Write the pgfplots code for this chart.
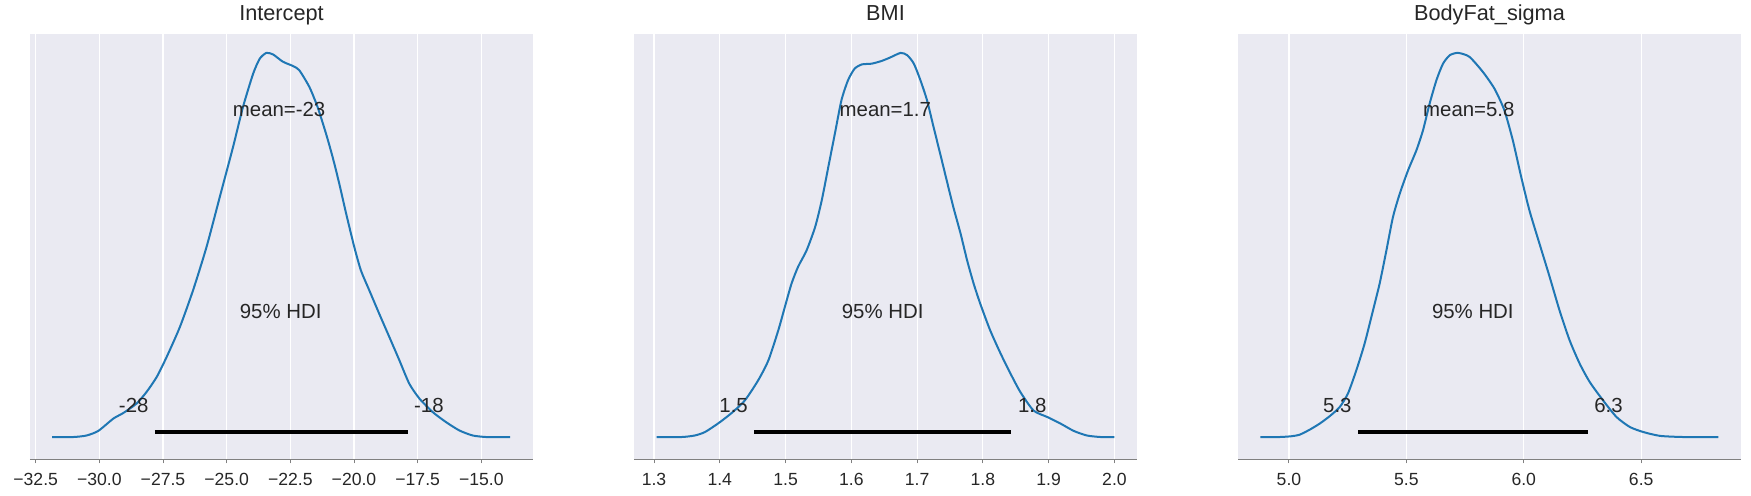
\documentclass[border=0pt]{standalone}
\usepackage{pgfplots}
\pgfplotsset{compat=1.18}
\usepackage{fontspec}
\setmainfont{Liberation Sans}
\definecolor{bg}{HTML}{EAEAF2}
\definecolor{c0}{HTML}{1F77B4}
\definecolor{txt}{HTML}{262626}
\definecolor{spine}{HTML}{808080}
\newcommand{\annfont}{\fontsize{20.4bp}{24bp}\selectfont}
\pgfplotsset{
  panel/.style={
    width=503bp, height=425.6bp, scale only axis,
    anchor=south west,
    axis background/.style={fill=bg},
    axis x line*=bottom, axis y line=none,
    ymin=-0.058, ymax=1.05,
    ytick=\empty,
    xmajorgrids, major grid style={white, line width=1.1bp},
    axis line style={draw=spine, line width=1bp},
    tick align=outside, major tick length=4bp,
    xtick style={draw=spine, line width=1bp},
    tick label style={font=\fontsize{17.6bp}{20bp}\selectfont, text=txt},
    xticklabel style={anchor=base, yshift=-21.7bp},
    title style={font=\fontsize{21.7bp}{25bp}\selectfont, text=txt, at={(0.5,1)}, anchor=base, yshift=7.7bp},
    clip=false,
  },
  kde/.style={c0, line width=2bp, smooth, tension=0.4, no marks},
  hdi/.style={black, line width=4bp, no marks},
}
\begin{document}
\begin{tikzpicture}
\path[use as bounding box] (0,0) rectangle (1751bp,496bp);
% ---------------- Intercept
\begin{axis}[panel, at={(30bp,36.7bp)}, title={Intercept},
  xmin=-32.723, xmax=-12.971,
  xtick={-32.5,-30,-27.5,-25,-22.5,-20,-17.5,-15},
  xticklabels={−32.5,−30.0,−27.5,−25.0,−22.5,−20.0,−17.5,−15.0}]
\addplot[kde] coordinates {
(-31.85,0) (-31.02,0) (-30.50,0.004) (-30.04,0.016) (-29.45,0.048) (-29.06,0.0625)
(-28.54,0.087) (-28.15,0.117) (-27.75,0.156) (-27.36,0.208) (-26.84,0.286) (-26.32,0.382)
(-25.79,0.495) (-25.27,0.625) (-24.75,0.755) (-24.36,0.859) (-23.96,0.946) (-23.70,0.985)
(-23.44,1.0) (-23.18,0.996) (-22.79,0.977) (-22.40,0.966) (-22.15,0.955) (-21.75,0.911)
(-21.43,0.859) (-21.10,0.790) (-20.84,0.729) (-20.58,0.660) (-20.31,0.582) (-19.99,0.495)
(-19.73,0.434) (-19.40,0.382) (-19.01,0.321) (-18.61,0.260) (-18.22,0.200) (-17.83,0.139)
(-17.43,0.100) (-16.91,0.065) (-16.39,0.039) (-15.86,0.017) (-15.34,0.004) (-14.82,0)
(-14.29,0) (-13.87,0)};
\addplot[hdi] coordinates {(-27.82,0.012) (-17.87,0.012)};
\node[anchor=base, font=\annfont, text=txt] at (axis cs:-22.94,0.835) {mean=-23};
\node[anchor=base, font=\annfont, text=txt] at (axis cs:-22.88,0.308) {95\% HDI};
\node[anchor=base, font=\annfont, text=txt] at (axis cs:-28.65,0.063) {-28};
\node[anchor=base, font=\annfont, text=txt] at (axis cs:-17.06,0.063) {-18};
\end{axis}
% ---------------- BMI
\begin{axis}[panel, at={(634bp,36.7bp)}, title={BMI},
  xmin=1.2696, xmax=2.0343,
  xtick={1.3,1.4,1.5,1.6,1.7,1.8,1.9,2.0},
  xticklabels={1.3,1.4,1.5,1.6,1.7,1.8,1.9,2.0}]
\addplot[kde] coordinates {
(1.304,0) (1.342,0) (1.362,0.004) (1.3775,0.013) (1.398,0.036) (1.418,0.0625)
(1.438,0.095) (1.4585,0.148) (1.474,0.200) (1.489,0.278) (1.499,0.339) (1.509,0.399)
(1.519,0.443) (1.532,0.486) (1.545,0.547) (1.555,0.616) (1.565,0.703) (1.575,0.790)
(1.585,0.877) (1.595,0.929) (1.605,0.959) (1.616,0.970) (1.631,0.972) (1.646,0.979)
(1.659,0.988) (1.675,1.0) (1.685,0.994) (1.695,0.972) (1.705,0.929) (1.715,0.877)
(1.725,0.807) (1.735,0.738) (1.745,0.668) (1.755,0.599) (1.766,0.530) (1.776,0.460)
(1.786,0.399) (1.796,0.347) (1.811,0.278) (1.827,0.217) (1.842,0.165) (1.857,0.117)
(1.877,0.069) (1.898,0.052) (1.918,0.035) (1.938,0.016) (1.958,0.004) (1.979,0) (2.000,0)};
\addplot[hdi] coordinates {(1.4525,0.012) (1.8428,0.012)};
\node[anchor=base, font=\annfont, text=txt] at (axis cs:1.6517,0.835) {mean=1.7};
\node[anchor=base, font=\annfont, text=txt] at (axis cs:1.6477,0.308) {95\% HDI};
\node[anchor=base, font=\annfont, text=txt] at (axis cs:1.421,0.063) {1.5};
\node[anchor=base, font=\annfont, text=txt] at (axis cs:1.875,0.063) {1.8};
\end{axis}
% ---------------- BodyFat_sigma
\begin{axis}[panel, at={(1238bp,36.7bp)}, title={BodyFat\_sigma},
  xmin=4.783, xmax=6.925,
  xtick={5.0,5.5,6.0,6.5},
  xticklabels={5.0,5.5,6.0,6.5}]
\addplot[kde] coordinates {
(4.878,0) (4.960,0) (5.010,0.002) (5.045,0.006) (5.088,0.019) (5.131,0.035)
(5.173,0.054) (5.216,0.078) (5.251,0.113) (5.287,0.174) (5.322,0.243) (5.358,0.330)
(5.386,0.399) (5.415,0.486) (5.443,0.573) (5.472,0.634) (5.507,0.694) (5.543,0.747)
(5.571,0.799) (5.599,0.868) (5.628,0.929) (5.656,0.972) (5.685,0.994) (5.720,1.0)
(5.768,0.990) (5.825,0.951) (5.875,0.907) (5.917,0.851) (5.953,0.773) (5.989,0.677)
(6.024,0.590) (6.067,0.503) (6.110,0.417) (6.152,0.330) (6.195,0.252) (6.238,0.191)
(6.281,0.143) (6.338,0.095) (6.395,0.052) (6.452,0.026) (6.509,0.013) (6.580,0.003)
(6.679,0) (6.829,0)};
\addplot[hdi] coordinates {(5.294,0.012) (6.275,0.012)};
\node[anchor=base, font=\annfont, text=txt] at (axis cs:5.766,0.835) {mean=5.8};
\node[anchor=base, font=\annfont, text=txt] at (axis cs:5.783,0.308) {95\% HDI};
\node[anchor=base, font=\annfont, text=txt] at (axis cs:5.206,0.063) {5.3};
\node[anchor=base, font=\annfont, text=txt] at (axis cs:6.361,0.063) {6.3};
\end{axis}
\end{tikzpicture}
\end{document}
